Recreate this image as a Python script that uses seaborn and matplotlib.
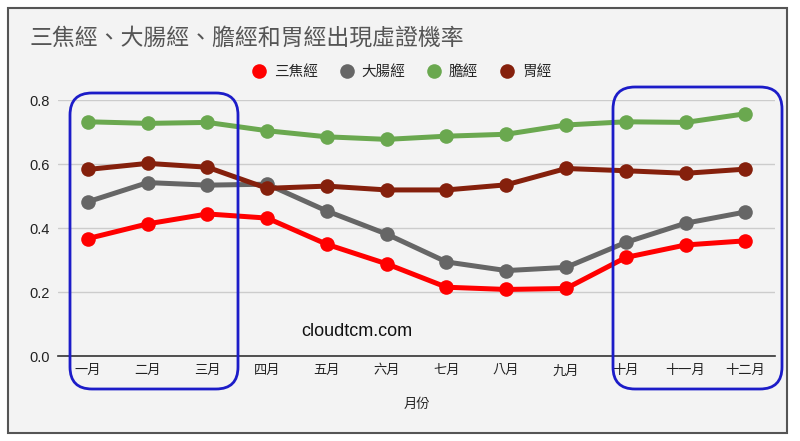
import seaborn as sns
import numpy as np
import pandas as pd
import matplotlib.pyplot as plt
from matplotlib.patches import FancyBboxPatch, Rectangle
from matplotlib.lines import Line2D
from matplotlib.transforms import IdentityTransform

# Data
months = ['一月', '二月', '三月', '四月', '五月', '六月', '七月', '八月', '九月', '十月', '十一月', '十二月']
sanjiao = [0.367, 0.413, 0.444, 0.431, 0.349, 0.288, 0.215, 0.208, 0.211, 0.308, 0.347, 0.360]
dachang = [0.482, 0.542, 0.534, 0.537, 0.453, 0.381, 0.294, 0.267, 0.277, 0.355, 0.415, 0.450]
dan = [0.732, 0.727, 0.730, 0.704, 0.685, 0.677, 0.687, 0.693, 0.722, 0.732, 0.730, 0.757]
wei = [0.583, 0.602, 0.590, 0.524, 0.531, 0.519, 0.519, 0.535, 0.586, 0.579, 0.571, 0.584]
series_names = ['三焦經', '大腸經', '膽經', '胃經']
colors = ['#ff0000', '#666666', '#6aa84f', '#85200c']

df = pd.DataFrame({'month': months * 4,
                   'series': np.repeat(series_names, len(months)),
                   'value': sanjiao + dachang + dan + wei})

sns.set_style("white")
plt.rcParams['font.family'] = ['Noto Sans CJK TC', 'DejaVu Sans']
latin = ['Liberation Sans', 'Noto Sans CJK TC']

fig = plt.figure(figsize=(8, 4.41), dpi=100)
bg = '#f3f3f3'
fig.patches.append(Rectangle((8, 8), 779, 425, transform=IdentityTransform(),
                             facecolor=bg, edgecolor='#555555', linewidth=1.5, zorder=-5))

ax = fig.add_axes([0.0725, 0.1927, 0.8965, 0.5805])
ax.set_facecolor('none')
ax.set_zorder(2)

sns.lineplot(data=df, x='month', y='value', hue='series', palette=colors,
             marker='o', markersize=10.5, markeredgewidth=0, linewidth=3.6,
             sort=False, legend=False, ax=ax, clip_on=False)

ax.set_xlim(-0.5, 11.5)
ax.set_ylim(0, 0.8)
ax.set_yticks([0.0, 0.2, 0.4, 0.6, 0.8])
ax.set_yticklabels(['0.0', '0.2', '0.4', '0.6', '0.8'], fontsize=10.5,
                   color='#222222', family=latin)
ax.set_xticks(range(len(months)))
ax.set_xticklabels(months, fontsize=9.5, color='#222222', fontweight='medium')
ax.tick_params(axis='x', length=0, pad=6)
ax.tick_params(axis='y', length=0, pad=6)
ax.yaxis.grid(True, color='#cccccc', linewidth=1)
ax.set_axisbelow(True)
for s in ['top', 'right', 'left']:
    ax.spines[s].set_visible(False)
ax.spines['bottom'].set_color('#333333')
ax.spines['bottom'].set_linewidth(1.2)
ax.set_xlabel('月份', fontsize=9.5, color='#222222', fontweight='medium', labelpad=15)
ax.set_ylabel('')

fig.text(0.037, 1 - 38 / 441, '三焦經、大腸經、膽經和胃經出現虛證機率',
         fontsize=16.5, color='#555555', va='center', ha='left')

handles = [Line2D([], [], marker='o', linestyle='', markersize=10.5, markeredgewidth=0, color=c)
           for c in colors]
fig.legend(handles, series_names, loc='center', bbox_to_anchor=(0.5, 1 - 72 / 441),
           ncol=4, frameon=False, handletextpad=0.3, columnspacing=1.3,
           handlelength=1.4, prop={'size': 10.5, 'weight': 'medium'})

fig.text(0.446, 1 - 331 / 441, 'cloudtcm.com', fontsize=13, color='#111111',
         ha='center', va='center', family=latin)

# blue highlight boxes
for x0, x1, top in [(70, 238, 93), (613, 782, 87)]:
    fig.patches.append(FancyBboxPatch((x0, 52), x1 - x0, 441 - top - 52,
                                      boxstyle='round,pad=0,rounding_size=22',
                                      transform=IdentityTransform(), facecolor='none',
                                      edgecolor='#1c1cc8', linewidth=2, zorder=5))

fig.savefig('out.png', dpi=100, facecolor='white')
